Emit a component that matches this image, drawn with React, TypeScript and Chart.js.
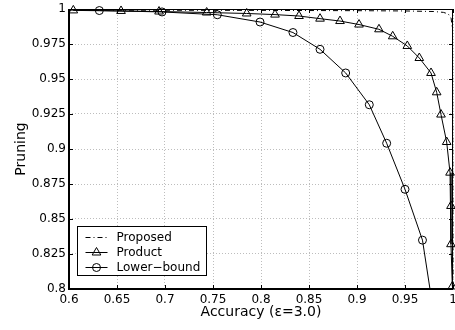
import { useEffect, useRef } from "react";
import { Chart, registerables } from "chart.js";

Chart.register(...registerables);

// ---- data ----
const proposedX = [0.6, 0.7, 0.8, 0.9, 0.95, 0.98, 0.99, 0.995, 0.998, 0.9995, 1.0];
const proposedY = [0.9992, 0.9991, 0.999, 0.9988, 0.9986, 0.9982, 0.9976, 0.9965, 0.9935, 0.985, 0.8];

const productX = [
  0.6045, 0.6542, 0.6938, 0.7434, 0.7851, 0.8146, 0.8396, 0.8615, 0.8823, 0.9021, 0.9229,
  0.9372, 0.9524, 0.9649, 0.9771, 0.983, 0.9875, 0.9934, 0.9969, 0.9979, 0.9979, 0.9993,
];
const productY = [
  0.999, 0.9986, 0.9982, 0.9975, 0.9968, 0.996, 0.995, 0.9931, 0.9914, 0.9889, 0.9855,
  0.9805, 0.9736, 0.965, 0.9543, 0.9405, 0.9246, 0.905, 0.8831, 0.8593, 0.832, 0.8018,
];

const lowerX = [0.6045, 0.6316, 0.6969, 0.7545, 0.799, 0.8333, 0.8615, 0.8882, 0.9128, 0.9309, 0.95, 0.9682, 0.9805];
const lowerY = [0.9993, 0.9989, 0.9979, 0.9959, 0.9907, 0.9832, 0.9712, 0.9543, 0.9316, 0.9041, 0.8712, 0.8349, 0.78];
const lowerRadius = [0, 4, 4, 4, 4, 4, 4, 4, 4, 4, 4, 4, 0];

const seriesLabels = ["Proposed", "Product", "Lower\u2212bound"];
const xTitle = "Accuracy (\u03b5=3.0)";
const yTitle = "Pruning";

const FONT = "'DejaVu Sans', sans-serif";

const toPoints = (xs: number[], ys: number[]) => xs.map((x, i) => ({ x, y: ys[i] }));
const fmt = (v: number | string) => String(+Number(v).toFixed(3));

const framePlugin = {
  id: "frame",
  beforeDatasetsDraw(chart: any) {
    const { ctx, chartArea } = chart;
    const { left, top, right, bottom } = chartArea;
    ctx.save();
    ctx.strokeStyle = "#000";
    ctx.lineWidth = 1;
    ctx.beginPath();
    ctx.moveTo(left, top + 0.5);
    ctx.lineTo(right - 0.5, top + 0.5);
    ctx.lineTo(right - 0.5, bottom);
    ctx.stroke();
    const tl = 4;
    ctx.beginPath();
    chart.scales.x.ticks.forEach((t: any) => {
      const px = Math.round(chart.scales.x.getPixelForValue(t.value)) + 0.5;
      ctx.moveTo(px, bottom);
      ctx.lineTo(px, bottom - tl);
      ctx.moveTo(px, top);
      ctx.lineTo(px, top + tl);
    });
    chart.scales.y.ticks.forEach((t: any) => {
      const py = Math.round(chart.scales.y.getPixelForValue(t.value)) + 0.5;
      ctx.moveTo(left, py);
      ctx.lineTo(left + tl, py);
      ctx.moveTo(right, py);
      ctx.lineTo(right - tl, py);
    });
    ctx.stroke();
    ctx.lineWidth = 2;
    ctx.beginPath();
    ctx.moveTo(left, top);
    ctx.lineTo(left, bottom);
    ctx.lineTo(right, bottom);
    ctx.stroke();
    ctx.restore();
  },
};

const legendPlugin = {
  id: "boxLegend",
  afterDraw(chart: any) {
    const { ctx, chartArea } = chart;
    const bx = chartArea.left + 8.5;
    const bw = 129;
    const bh = 49;
    const by = chartArea.bottom - 14 - bh + 0.5;
    ctx.save();
    ctx.fillStyle = "#fff";
    ctx.fillRect(bx, by, bw, bh);
    ctx.strokeStyle = "#000";
    ctx.lineWidth = 1;
    ctx.strokeRect(bx, by, bw, bh);
    chart.data.datasets.forEach((ds: any, i: number) => {
      const cy = Math.round(by + 10 + i * 15) + 0.5;
      const x1 = bx + 8;
      const x2 = bx + 30;
      ctx.strokeStyle = "#000";
      ctx.lineWidth = 1;
      ctx.setLineDash(ds.borderDash || []);
      ctx.beginPath();
      ctx.moveTo(x1, cy);
      ctx.lineTo(x2, cy);
      ctx.stroke();
      ctx.setLineDash([]);
      const mx = (x1 + x2) / 2;
      if (ds.pointStyle === "triangle") {
        const r = 5;
        ctx.beginPath();
        ctx.moveTo(mx, cy - r);
        ctx.lineTo(mx + r * Math.sin((2 * Math.PI) / 3), cy + r / 2);
        ctx.lineTo(mx - r * Math.sin((2 * Math.PI) / 3), cy + r / 2);
        ctx.closePath();
        ctx.stroke();
      } else if (ds.pointStyle === "circle") {
        ctx.beginPath();
        ctx.arc(mx, cy, 4, 0, Math.PI * 2);
        ctx.stroke();
      }
      ctx.fillStyle = "#000";
      ctx.font = `12px ${FONT}`;
      ctx.textBaseline = "middle";
      ctx.textAlign = "left";
      ctx.fillText(ds.label, bx + 39, cy);
    });
    ctx.restore();
  },
};

function zeroPad(s: any) {
  s.paddingLeft = 0;
  s.paddingRight = 0;
  s.paddingTop = 0;
  s.paddingBottom = 0;
}

export default function App() {
  const ref = useRef<HTMLCanvasElement | null>(null);

  useEffect(() => {
    document.body.style.margin = "0";
    if (!ref.current) return;
    const tickFont = { family: FONT, size: 12 };
    const chart = new Chart(ref.current, {
      type: "scatter",
      data: {
        datasets: [
          {
            label: seriesLabels[0],
            data: toPoints(proposedX, proposedY),
            showLine: true,
            borderColor: "#000",
            borderWidth: 1,
            borderDash: [5, 3, 1, 3],
            pointRadius: 0,
            pointHoverRadius: 0,
            clip: false as any,
          },
          {
            label: seriesLabels[1],
            data: toPoints(productX, productY),
            showLine: true,
            borderColor: "#000",
            borderWidth: 1,
            pointStyle: "triangle",
            pointRadius: 5,
            pointHoverRadius: 5,
            pointBorderWidth: 1,
            pointBorderColor: "#000",
            pointBackgroundColor: "rgba(0,0,0,0)",
            clip: false as any,
          },
          {
            label: seriesLabels[2],
            data: toPoints(lowerX, lowerY),
            showLine: true,
            borderColor: "#000",
            borderWidth: 1,
            pointStyle: "circle",
            pointRadius: lowerRadius,
            pointHoverRadius: lowerRadius,
            pointBorderWidth: 1,
            pointBorderColor: "#000",
            pointBackgroundColor: "rgba(0,0,0,0)",
            clip: { left: 10, top: 10, right: 10, bottom: 0 } as any,
          },
        ],
      },
      options: {
        animation: false,
        responsive: true,
        maintainAspectRatio: false,
        events: [],
        layout: { autoPadding: false, padding: { top: 9, right: 2, left: 0, bottom: 0 } },
        plugins: {
          legend: { display: false },
          tooltip: { enabled: false },
        },
        scales: {
          x: {
            type: "linear",
            min: 0.6,
            max: 1,
            ticks: {
              stepSize: 0.05,
              font: tickFont,
              color: "#000",
              padding: 4,
              maxRotation: 0,
              autoSkip: false,
              callback: (v: any) => fmt(v),
            },
            grid: { color: "#bdbdbd", drawTicks: false },
            border: { display: false, dash: [1, 2] },
            title: {
              display: true,
              text: xTitle,
              color: "#000",
              font: { family: FONT, size: 14 },
              padding: { top: 0, bottom: 9 },
            },
            afterFit: (s: any) => {
              s.height = 41;
              zeroPad(s);
            },
          },
          y: {
            type: "linear",
            min: 0.8,
            max: 1,
            ticks: {
              stepSize: 0.025,
              font: tickFont,
              color: "#000",
              padding: 3,
              autoSkip: false,
              callback: (v: any) => fmt(v),
            },
            grid: { color: "#bdbdbd", drawTicks: false },
            border: { display: false, dash: [1, 2] },
            title: {
              display: true,
              text: yTitle,
              color: "#000",
              font: { family: FONT, size: 14 },
              padding: { top: 13, bottom: 0 },
            },
            afterFit: (s: any) => {
              s.width = 69;
              zeroPad(s);
            },
          },
        },
      } as any,
      plugins: [framePlugin, legendPlugin],
    });
    return () => chart.destroy();
  }, []);

  return (
    <div style={{ width: 455, height: 330, position: "relative" }}>
      <canvas ref={ref} />
    </div>
  );
}
